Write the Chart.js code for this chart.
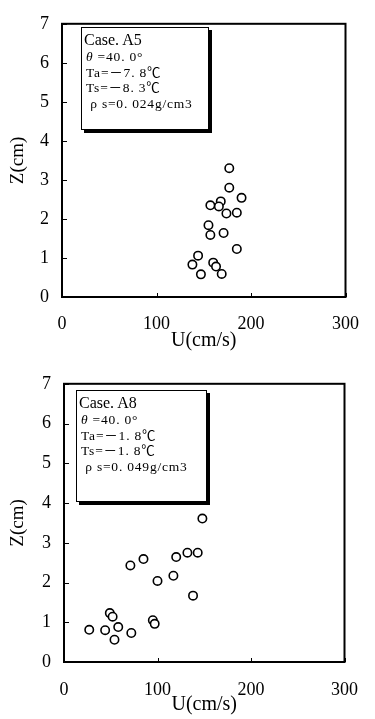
<!DOCTYPE html>
<html>
<head>
<meta charset="utf-8">
<script src="https://cdn.jsdelivr.net/npm/chart.js@4.4.1/dist/chart.umd.min.js"></script>
<style>
  body { margin: 0; background: #fff; }
  #wrap { position: relative; width: 375px; height: 719px; overflow: hidden; }
  canvas { position: absolute; left: 0; }
  .info {
    position: absolute; box-sizing: border-box; background: #fff;
    border: 1px solid #000; box-shadow: 3px 3px 0 #000;
    padding: 3px 0 0 2px; color: #000;
    font-family: "Liberation Serif", "Noto Sans CJK JP", serif;
  }
  .info div { white-space: nowrap; font-size: 13.5px; line-height: 15.5px; letter-spacing: 0.8px; padding-left: 2px; }
  .info .case { font-size: 16px; line-height: 18px; letter-spacing: 0; padding-left: 0; }
</style>
</head>
<body>
<div id="wrap">
  <canvas id="chartA5" width="375" height="360" style="top:0"></canvas>
  <canvas id="chartA8" width="375" height="359" style="top:360px"></canvas>

  <div class="info" style="left:81px; top:27px; width:128px; height:103px">
    <div class="case">Case. A5</div>
    <div><i>θ</i> =40. 0°</div>
    <div>Ta=－7. 8℃</div>
    <div>Ts=－8. 3℃</div>
    <div>&nbsp;ρ s=0. 024g/cm3</div>
  </div>
  <div class="info" style="left:76px; top:390px; width:131px; height:112px">
    <div class="case">Case. A8</div>
    <div><i>θ</i> =40. 0°</div>
    <div>Ta=－1. 8℃</div>
    <div>Ts=－1. 8℃</div>
    <div>&nbsp;ρ s=0. 049g/cm3</div>
  </div>
</div>

<script>
// Case A5 measurements
const a5U = [177, 177, 190, 157, 168, 166, 174, 185, 155, 157, 171, 185, 144, 138, 147, 160, 163, 169];
const a5Z = [3.30, 2.80, 2.54, 2.35, 2.45, 2.32, 2.14, 2.16, 1.84, 1.59, 1.64, 1.23, 1.06, 0.83, 0.58, 0.88, 0.78, 0.59];

// Case A8 measurements
const a8U = [148, 132, 143, 120, 85, 71, 117, 100, 138, 49, 52, 95, 97, 58, 27, 44, 72, 54];
const a8Z = [3.61, 2.75, 2.75, 2.64, 2.59, 2.43, 2.17, 2.04, 1.67, 1.23, 1.14, 1.05, 0.96, 0.88, 0.81, 0.80, 0.73, 0.56];

// Axis ranges
const uRange = [0, 300];
const zRange = [0, 7];

const serif = '"Liberation Serif", "Times New Roman", serif';

// Frame around the plot and small inward tick marks
const framePlugin = {
    id: 'frame',
    afterDraw(chart) {
        const { ctx, chartArea: a, scales: { x, y } } = chart;
        ctx.save();
        ctx.strokeStyle = '#000';
        ctx.lineWidth = 1;
        ctx.beginPath();
        y.ticks.forEach(t => {
            const py = Math.round(y.getPixelForValue(t.value)) + 0.5;
            ctx.moveTo(a.left, py);
            ctx.lineTo(a.left + 5, py);
        });
        x.ticks.forEach(t => {
            const px = Math.round(x.getPixelForValue(t.value)) + 0.5;
            ctx.moveTo(px, a.bottom);
            ctx.lineTo(px, a.bottom - 4);
        });
        ctx.stroke();
        ctx.lineWidth = 2;
        ctx.strokeRect(a.left, a.top, a.right - a.left, a.bottom - a.top);
        ctx.restore();
    }
};

function makeChart(id, us, zs, g) {
    new Chart(document.getElementById(id), {
        type: 'scatter',
        data: {
            datasets: [{
                data: us.map((u, i) => ({ x: u, y: zs[i] })),
                pointRadius: 4.2,
                pointHoverRadius: 4.2,
                pointBorderWidth: 1.6,
                borderColor: '#000',
                backgroundColor: '#fff'
            }]
        },
        options: {
            responsive: false,
            animation: false,
            devicePixelRatio: 1,
            events: [],
            layout: { padding: { top: g.top, right: g.right, left: 0, bottom: 0 } },
            plugins: { legend: { display: false }, tooltip: { enabled: false } },
            scales: {
                x: {
                    type: 'linear',
                    min: uRange[0], max: uRange[1],
                    grid: { display: false, drawTicks: false },
                    border: { display: false },
                    ticks: { stepSize: 100, padding: g.xPad, color: '#000', font: { family: serif, size: 18 } },
                    title: {
                        display: true, text: 'U(cm/s)', color: '#000',
                        font: { family: serif, size: 20 },
                        padding: { top: 0, bottom: g.titlePad }
                    },
                    afterFit: s => { s.height = g.xHeight; }
                },
                y: {
                    type: 'linear',
                    min: zRange[0], max: zRange[1],
                    grid: { display: false, drawTicks: false },
                    border: { display: false },
                    ticks: { stepSize: 1, padding: 13, color: '#000', font: { family: serif, size: 18 } },
                    title: {
                        display: true, text: 'Z(cm)', color: '#000',
                        font: { family: serif, size: 19 },
                        padding: { top: 7, bottom: 0 }
                    },
                    afterFit: s => { s.width = g.yWidth; }
                }
            }
        },
        plugins: [framePlugin]
    });
}

makeChart('chartA5', a5U, a5Z, { top: 14, right: 16, yWidth: 62, xHeight: 63, xPad: 16, titlePad: 7 });
makeChart('chartA8', a8U, a8Z, { top: 15, right: 14, yWidth: 64, xHeight: 57, xPad: 17, titlePad: 2 });
</script>
</body>
</html>
